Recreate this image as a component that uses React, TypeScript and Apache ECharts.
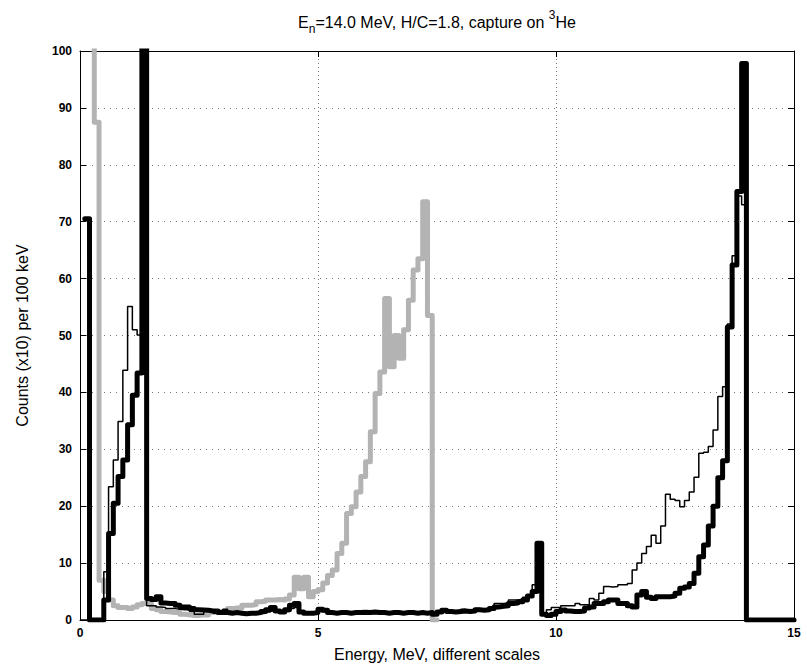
import React, { useEffect, useRef } from "react";
import * as echarts from "echarts";

// Histogram bins are 0.1 MeV wide
const BIN = 0.1;

// Thick black histogram, first bin starts at 0.1 MeV
const thickStart = 0.1;
const thickValues = [
  70.5, 0, 0, 0, 3.5, 15.2, 20.5, 25.2, 28.1, 34.3,
  39.5, 43.4, 160, 3.8, 3.6, 4.1, 3.0, 2.9, 2.9, 2.6,
  2.3, 2.3, 2.0, 1.8, 1.75, 1.7, 1.6, 1.6, 1.3, 1.3,
  1.2, 1.3, 1.2, 1.1, 1.2, 1.2, 1.3, 1.5, 1.8, 2.2,
  1.6, 1.4, 1.8, 2.6, 2.9, 1.4, 1.2, 1.2, 1.3, 1.9,
  1.7, 1.3, 1.2, 1.3, 1.3, 1.2, 1.3, 1.3, 1.35, 1.3,
  1.4, 1.3, 1.3, 1.2, 1.3, 1.3, 1.2, 1.3, 1.3, 1.2,
  1.3, 1.2, 1.3, 1.0, 1.4, 1.7, 1.5, 1.4, 1.5, 1.6,
  1.5, 1.6, 1.8, 1.7, 1.8, 2.0, 2.3, 2.4, 2.5, 2.9,
  3.0, 3.2, 3.5, 4.2, 5.0, 13.5, 1.0, 0.8, 1.0, 1.5,
  1.75, 1.6, 1.5, 1.5, 1.6, 2.1, 2.3, 2.9, 2.9, 3.2,
  3.5, 3.5, 2.9, 2.9, 2.5, 2.3, 4.4, 5.0, 4.0, 3.8,
  4.1, 4.1, 4.1, 4.2, 4.7, 5.6, 5.8, 6.4, 8.2, 11.1,
  13.2, 16.5, 20.0, 25.0, 28.0, 51.5, 62.4, 75.3, 97.8, 0,
  0, 0, 0, 0, 0, 0, 0, 0, 0,
];

// Thin black histogram, first bin starts at 0 MeV
const thinStart = 0.0;
const thinValues = [
  0, 0, 0, 0, 0, 8.5, 23.4, 28.1, 34.9, 43.9,
  55.1, 51.0, 50.1, 45.0, 2.5, 2.5, 2.3, 2.2, 2.0, 2.0,
  1.9, 1.8, 1.8, 1.5, 1.0, 1.0, 1.8, 1.7, 1.2, 1.3,
  1.9, 1.5, 1.3, 1.2, 1.0, 1.1, 1.0, 1.1, 1.2, 1.4,
  1.6, 1.4, 1.2, 1.5, 2.0, 2.2, 1.2, 1.0, 1.0, 1.1,
  1.5, 1.4, 1.1, 1.0, 1.1, 1.1, 1.0, 1.1, 1.1, 1.2,
  1.1, 1.2, 1.1, 1.1, 1.0, 1.1, 1.1, 1.0, 1.1, 1.1,
  1.0, 1.1, 1.0, 1.1, 1.0, 1.3, 1.5, 1.4, 1.3, 1.4,
  1.9, 1.5, 1.6, 2.0, 1.8, 1.9, 2.2, 2.9, 2.9, 3.0,
  3.5, 3.5, 3.6, 4.0, 4.0, 6.2, 6.5, 1.0, 1.8, 2.2,
  2.2, 2.5, 2.5, 2.5, 2.9, 2.7, 2.7, 3.8, 3.5, 4.7,
  5.9, 5.8, 5.9, 6.2, 6.2, 6.4, 8.8, 10.0, 11.7, 12.9,
  14.9, 13.5, 16.5, 22.1, 21.2, 21.0, 19.9, 21.0, 22.5, 25.1,
  29.3, 29.5, 30.5, 33.4, 39.3, 41.0, 52.0, 64.0, 74.5, 73.0,
  0, 0, 0, 0, 0, 0, 0, 0, 0, 0,
];

// Thick gray histogram, first bin starts at 0.2 MeV
const grayStart = 0.2;
const grayValues = [
  160, 87.5, 7.0, 5.0, 3.5, 2.5, 2.2, 2.2, 2.0, 2.3,
  2.7, 2.9, 2.9, 2.0, 1.8, 1.5, 1.4, 1.3, 1.3, 1.0,
  0.9, 0.8, 0.8, 0.9, 0.9, 1.3, 1.4, 1.5, 1.5, 2.0,
  2.1, 2.1, 2.6, 2.6, 2.7, 3.2, 3.3, 3.5, 3.5, 3.6,
  3.5, 3.7, 4.4, 7.5, 5.5, 7.5, 4.1, 5.0, 5.3, 6.5,
  7.8, 8.8, 11.7, 13.5, 18.7, 19.9, 22.5, 25.2, 27.8, 33.1,
  39.8, 43.6, 56.5, 44.5, 50.0, 46.0, 51.0, 56.2, 61.5, 63.5,
  73.5, 53.5, 0,
];

const xMin = 0;
const xMax = 15;
const xStep = 5;
const yMin = 0;
const yMax = 100;
const yStep = 10;

const titleText = "{a|E}{s|n}{a|=14.0 MeV, H/C=1.8, capture on }{p|3}{a|He}";
const xName = "Energy, MeV, different scales";
const yName = "Counts (x10) per 100 keV";

function toSteps(start: number, values: number[]): number[][] {
  const pts = values.map((v, i) => [Math.round((start + i * BIN) * 100) / 100, v]);
  const last = values[values.length - 1];
  pts.push([Math.round((start + values.length * BIN) * 100) / 100, last]);
  return pts;
}

const W = 807;
const H = 669;
const GRID = { left: 80, right: 13, top: 51, bottom: 49 };
const FONT = "Liberation Sans, Arial, Helvetica, sans-serif";

export default function App() {
  const ref = useRef<HTMLDivElement>(null);

  useEffect(() => {
    if (!ref.current) return;
    const chart = echarts.init(ref.current, undefined, { renderer: "svg" });
    const plotCx = GRID.left + (W - GRID.left - GRID.right) / 2;
    const plotCy = GRID.top + (H - GRID.top - GRID.bottom) / 2;

    const tickStyle = { show: true, inside: true, length: 6, lineStyle: { color: "#000", width: 1 } };
    const axisLineStyle = { show: true, onZero: false, lineStyle: { color: "#000", width: 1 } };
    const labelStyle = { fontFamily: FONT, fontWeight: "bold" as const, fontSize: 12, color: "#000" };

    chart.setOption({
      animation: false,
      backgroundColor: "#fff",
      title: {
        text: titleText,
        left: plotCx,
        top: 9,
        textAlign: "center",
        padding: 0,
        textStyle: {
          fontFamily: FONT,
          fontWeight: "normal",
          rich: {
            a: { fontFamily: FONT, fontSize: 16, color: "#000", lineHeight: 26, verticalAlign: "middle" },
            s: { fontFamily: FONT, fontSize: 12, color: "#000", lineHeight: 12, verticalAlign: "bottom" },
            p: { fontFamily: FONT, fontSize: 12, color: "#000", lineHeight: 16, verticalAlign: "top" },
          },
        },
      },
      grid: { ...GRID, containLabel: false },
      xAxis: [
        {
          type: "value",
          min: xMin,
          max: xMax,
          interval: xStep,
          position: "bottom",
          axisLine: axisLineStyle,
          axisTick: tickStyle,
          axisLabel: { ...labelStyle, margin: 7 },
          splitLine: { show: true, lineStyle: { color: "#777", width: 1, type: [1, 3] } },
        },
        {
          type: "value",
          min: xMin,
          max: xMax,
          interval: xStep,
          position: "top",
          axisLine: axisLineStyle,
          axisTick: tickStyle,
          axisLabel: { show: false },
          splitLine: { show: false },
        },
      ],
      yAxis: [
        {
          type: "value",
          min: yMin,
          max: yMax,
          interval: yStep,
          position: "left",
          axisLine: axisLineStyle,
          axisTick: tickStyle,
          axisLabel: { ...labelStyle, margin: 8 },
          splitLine: { show: true, lineStyle: { color: "#777", width: 1, type: [1, 5] } },
        },
        {
          type: "value",
          min: yMin,
          max: yMax,
          interval: yStep,
          position: "right",
          axisLine: axisLineStyle,
          axisTick: tickStyle,
          axisLabel: { show: false },
          splitLine: { show: false },
        },
      ],
      graphic: [
        {
          type: "text",
          x: plotCx,
          y: 654,
          style: { text: xName, fontFamily: FONT, fontSize: 16, fill: "#000", textAlign: "center", textVerticalAlign: "middle" },
        },
        {
          type: "text",
          x: 22,
          y: plotCy,
          rotation: Math.PI / 2,
          style: { text: yName, fontFamily: FONT, fontSize: 16, fill: "#000", textAlign: "center", textVerticalAlign: "middle" },
        },
      ],
      series: [
        {
          type: "line",
          name: "gray",
          step: "end",
          data: toSteps(grayStart, grayValues),
          showSymbol: false,
          symbol: "none",
          clip: true,
          lineStyle: { color: "#b3b3b3", width: 5, cap: "round", join: "round" },
          z: 2,
        },
        {
          type: "line",
          name: "thick",
          step: "end",
          data: toSteps(thickStart, thickValues),
          showSymbol: false,
          symbol: "none",
          clip: true,
          lineStyle: { color: "#000", width: 5, cap: "round", join: "round" },
          z: 3,
        },
        {
          type: "line",
          name: "thin",
          step: "end",
          data: toSteps(thinStart, thinValues),
          showSymbol: false,
          symbol: "none",
          clip: true,
          lineStyle: { color: "#000", width: 1.5 },
          z: 4,
        },
      ],
    });
    return () => chart.dispose();
  }, []);

  return (
    <div
      ref={ref}
      style={{ position: "fixed", left: 0, top: 0, width: W, height: H, background: "#fff" }}
    />
  );
}
